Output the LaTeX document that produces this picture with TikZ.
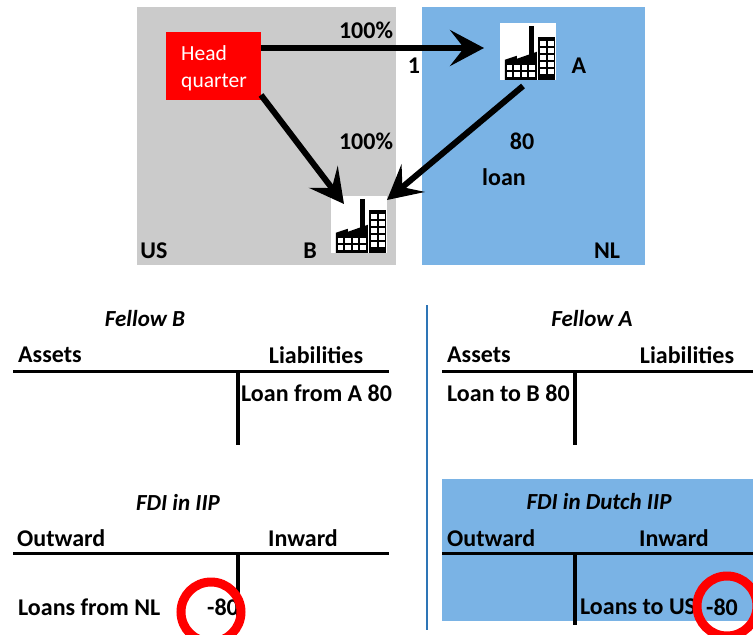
\documentclass[tikz,border=0pt]{standalone}
\usepackage{fontspec}
\setmainfont{Carlito}
\usetikzlibrary{arrows.meta}
\definecolor{nlblue}{HTML}{7AB3E5}
\definecolor{usgray}{HTML}{CBCBCB}
\definecolor{rulecol}{HTML}{2E75B6}

\tikzset{
    lbl/.style={font=\bfseries\fontsize{24}{28}\selectfont,inner sep=0pt},
    ttl/.style={font=\bfseries\itshape\fontsize{23}{28}\selectfont,inner sep=0pt},
    tbar/.style={line width=3pt,black},
    arr/.style={line width=6pt,-{Stealth[length=34pt,width=36pt,inset=14pt]}},
    plant/.style={fill=white,inner sep=0pt,minimum width=56pt,minimum height=57pt},
    factory/.pic={
        \fill[black] (29,3) rectangle (34,33);
        \fill[black] (5,57) -- (5,37) -- (17,33) -- (17,36) -- (37,29) -- (37,57) -- cycle;
        \fill[black] (38,14) rectangle (55,57);
        \foreach \col in {0,1,2,3}
            \foreach \row in {0,1}
                \fill[white] (7+\col*7.5,42+\row*7) rectangle ++(5.5,5);
        \foreach \col in {0,1}
            \foreach \row in {0,1,2,3,4}
                \fill[white] (40+\col*8,18+\row*7) rectangle ++(6,5);
    }
}

\begin{document}
\begin{tikzpicture}[x=1pt,y=-1pt]
    \useasboundingbox (0,0) rectangle (753,635);

    % regions
    \fill[usgray] (137,7) rectangle (396,265);
    \fill[nlblue] (422,7) rectangle (645,265);
    \fill[nlblue] (442,479) rectangle (753,621);
    \draw[rulecol,line width=1.3pt] (427,305) -- (427,630);

    \node[fill=red,inner sep=0pt,minimum width=95pt,minimum height=68pt] (hq) at (213.5,66) {};
    \node[text=white,align=left,inner sep=0pt,font=\fontsize{21.5}{27}\selectfont]
        (hqname) at (214,68) {Head\hspace{28pt}\\quarter};
    \node[plant] (fabA) at (528,51.5) {};
    \node[plant] (fabB) at (359,224.5) {};
    \pic at (fabA.north west) {factory};
    \pic at (fabB.north west) {factory};

    \coordinate (hqTop) at (261,48);
    \coordinate (hqLow) at (261,95);
    \coordinate (inA) at (484,48);
    \coordinate (outA) at (523,86);
    \coordinate (inB) at (344,204);
    \coordinate (inBr) at (387,200);
    \draw[arr] (hqTop) -- (inA);
    \draw[arr] (hqLow) -- (inB);
    \draw[arr] (outA) -- (inBr);

    \node[lbl] (pctA) at (366,30) {100\%};
    \node[lbl] (pctB) at (366,141) {100\%};
    \node[lbl] (one) at (414,66) {1};
    \node[lbl] (nameA) at (579,66) {A};
    \node[lbl] (nameB) at (310,251) {B};
    \node[lbl] (amt) at (522,141) {80};
    \node[lbl] (loan) at (504,177) {loan};
    \node[lbl] (us) at (154,251) {US};
    \node[lbl] (nl) at (607,251) {NL};

    % Fellow B
    \node[ttl] (ttlB) at (145,319) {Fellow B};
    \node[lbl,anchor=west] (assB) at (18,355) {Assets};
    \node[lbl] (liaB) at (316,355) {Liabilities};
    \draw[tbar] (13,371) -- (389,371);
    \draw[tbar,line width=4pt] (238,371) -- (238,445);
    \node[lbl,anchor=west] (loanB) at (241,393) {Loan from A 80};

    % Fellow A
    \node[ttl] (ttlA) at (592,319) {Fellow A};
    \node[lbl,anchor=west] (assA) at (447,355) {Assets};
    \node[lbl] (liaA) at (687,355) {Liabilities};
    \draw[tbar] (442,371) -- (753,371);
    \draw[tbar,line width=4pt] (575,371) -- (575,445);
    \node[lbl,anchor=west] (loanA) at (447,393) {Loan to B 80};

    % FDI in IIP
    \node[ttl] (ttlUS) at (178,502) {FDI in IIP};
    \node[lbl,anchor=west] (outUS) at (17,538) {Outward};
    \node[lbl] (inUS) at (303,538) {Inward};
    \draw[tbar] (13,553) -- (389,553);
    \draw[tbar,line width=4pt] (238,553) -- (238,622);
    \node[lbl,anchor=west] (loansUS) at (18,607) {Loans from NL};
    \node[lbl] (valUS) at (223,607) {-80};
    \draw[red,line width=9pt] (211,612) ellipse (30pt and 30pt);

    % FDI in Dutch IIP
    \node[ttl] (ttlNL) at (599,502) {FDI in Dutch IIP};
    \node[lbl,anchor=west] (outNL) at (447,538) {Outward};
    \node[lbl] (inNL) at (674,538) {Inward};
    \draw[tbar] (442,553) -- (753,553);
    \draw[tbar,line width=4pt] (575,553) -- (575,625);
    \node[lbl,anchor=west] (loansNL) at (580,607) {Loans to US};
    \node[lbl] (valNL) at (722,607) {-80};
    \draw[red,line width=9pt] (727,606) ellipse (30pt and 30pt);
\end{tikzpicture}
\end{document}
